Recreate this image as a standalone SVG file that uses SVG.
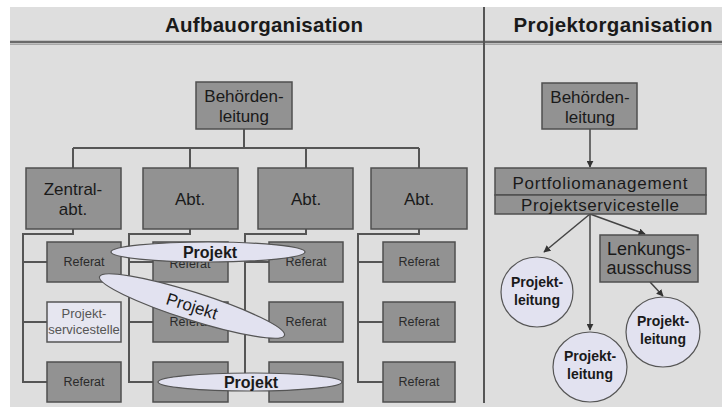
<svg xmlns="http://www.w3.org/2000/svg" width="722" height="409" viewBox="0 0 722 409">
<style>
text{font-family:"Liberation Sans",Arial,sans-serif;fill:#1a1a1a;text-anchor:middle}
.box{fill:#929292;stroke:#4f4f4f;stroke-width:1.5}
.ell{fill:#e2e2f0;stroke:#555;stroke-width:1.2}
.ln{fill:none;stroke:#555;stroke-width:2}
.arr{fill:none;stroke:#444;stroke-width:1.5;marker-end:url(#ah)}
.t17{font-size:17px}
.ref{font-size:12.5px;fill:#2a2a2a}
.prj{font-size:16px;font-weight:bold}
.pl{font-size:14px;font-weight:bold}
.hd{font-size:20.5px;font-weight:bold}
</style>
<defs>
<marker id="ah" viewBox="0 0 10 10" refX="9" refY="5" markerWidth="7" markerHeight="7" orient="auto" markerUnits="userSpaceOnUse"><path d="M0,0L10,5L0,10z" fill="#333"/></marker>
</defs>
<rect x="0" y="0" width="722" height="409" fill="#ffffff"/>
<rect x="10" y="7" width="712" height="400" fill="#dedede"/>
<line x1="10" y1="42" x2="722" y2="42" stroke="#6a6a6a" stroke-width="2.5"/>
<line x1="10" y1="44.5" x2="722" y2="44.5" stroke="#a8a8a8" stroke-width="1"/>
<line x1="484" y1="7" x2="484" y2="403" stroke="#555" stroke-width="2"/>
<text class="hd" x="264" y="32" textLength="198">Aufbauorganisation</text>
<text class="hd" x="613" y="32" textLength="199">Projektorganisation</text>

<g id="connectors">
<path class="ln" d="M244,129V148M73,148H419M73,148V168M190,148V168M306,148V168M419,148V168"/>
<path class="ln" d="M73,229V234H23V382H47M23,262H47M23,322H47"/>
<path class="ln" d="M190,229V234H129V382H153M129,262H153M129,322H153"/>
<path class="ln" d="M306,229V234H245V382H269M245,262H269M245,322H269"/>
<path class="ln" d="M419,229V234H358V382H383M358,262H383M358,322H383"/>
<line class="arr" x1="590" y1="129" x2="590" y2="167"/>
<line class="arr" x1="590" y1="214" x2="544" y2="252"/>
<line class="arr" x1="590" y1="214" x2="590" y2="330"/>
<line class="arr" x1="590" y1="214" x2="645" y2="234"/>
<line class="arr" x1="650" y1="282" x2="663" y2="296"/>
</g>

<g id="behoerdenleitung-left"><rect class="box" x="196" y="82" width="96" height="47"/><text class="t17" x="244" y="102">Behörden-</text><text class="t17" x="244" y="122">leitung</text></g>
<g id="zentralabt"><rect class="box" x="26" y="168" width="95" height="61"/><text class="t17" x="73" y="195">Zentral-</text><text class="t17" x="73" y="215">abt.</text></g>
<g id="abt1"><rect class="box" x="143" y="168" width="95" height="61"/><text class="t17" x="190" y="205">Abt.</text></g>
<g id="abt2"><rect class="box" x="258" y="168" width="95" height="61"/><text class="t17" x="306" y="205">Abt.</text></g>
<g id="abt3"><rect class="box" x="371" y="168" width="96" height="61"/><text class="t17" x="419" y="205">Abt.</text></g>

<g id="ref-1-1"><rect class="box" x="47" y="242" width="74" height="40"/><text class="ref" x="84" y="266">Referat</text></g>
<g id="projektservicestelle-left"><rect x="47" y="302" width="74" height="40" fill="#e6e6f0" stroke="#555" stroke-width="1.5"/><text class="ref" x="84" y="318" style="fill:#555;font-size:13px">Projekt-</text><text class="ref" x="84" y="334" style="fill:#555;font-size:13px">servicestelle</text></g>
<g id="ref-1-3"><rect class="box" x="47" y="362" width="74" height="40"/><text class="ref" x="84" y="386">Referat</text></g>

<g id="ref-2-1"><rect class="box" x="153" y="242" width="75" height="40"/><text class="ref" x="190" y="268">Referat</text></g>
<g id="ref-2-2"><rect class="box" x="153" y="302" width="75" height="40"/><text class="ref" x="190" y="326">Referat</text></g>
<g id="ref-2-3"><rect class="box" x="153" y="362" width="75" height="40"/><text class="ref" x="190" y="386">Referat</text></g>

<g id="ref-3-1"><rect class="box" x="269" y="242" width="74" height="40"/><text class="ref" x="306" y="266">Referat</text></g>
<g id="ref-3-2"><rect class="box" x="269" y="302" width="74" height="40"/><text class="ref" x="306" y="326">Referat</text></g>
<g id="ref-3-3"><rect class="box" x="269" y="362" width="74" height="40"/><text class="ref" x="306" y="386">Referat</text></g>

<g id="ref-4-1"><rect class="box" x="383" y="242" width="72" height="40"/><text class="ref" x="419" y="266">Referat</text></g>
<g id="ref-4-2"><rect class="box" x="383" y="302" width="72" height="40"/><text class="ref" x="419" y="326">Referat</text></g>
<g id="ref-4-3"><rect class="box" x="383" y="362" width="72" height="40"/><text class="ref" x="419" y="386">Referat</text></g>

<g id="projekt-1"><ellipse class="ell" cx="208" cy="252" rx="97" ry="10"/><text class="prj" x="210" y="258">Projekt</text></g>
<g id="projekt-2" transform="translate(192,306) rotate(17.6)"><ellipse class="ell" cx="0" cy="0" rx="97" ry="14"/><text class="prj" x="0" y="6" style="font-size:17px;font-weight:normal">Projekt</text></g>
<g id="projekt-3"><ellipse class="ell" cx="250" cy="382" rx="92" ry="9"/><text class="prj" x="251" y="388">Projekt</text></g>

<g id="behoerdenleitung-right"><rect class="box" x="542" y="83" width="95" height="46"/><text class="t17" x="590" y="103">Behörden-</text><text class="t17" x="590" y="123">leitung</text></g>
<g id="portfoliomanagement"><rect class="box" x="495" y="168" width="211" height="27"/><text class="t17" x="600" y="189" textLength="175">Portfoliomanagement</text></g>
<g id="projektservicestelle-right"><rect class="box" x="495" y="195" width="211" height="19"/><text class="t17" x="600" y="211" textLength="158">Projektservicestelle</text></g>
<g id="lenkungsausschuss"><rect class="box" x="600" y="235" width="98" height="47"/><text x="649" y="255" style="font-size:18px">Lenkungs-</text><text x="649" y="274" style="font-size:18px">ausschuss</text></g>
<g id="projektleitung-1"><ellipse class="ell" cx="537" cy="292" rx="36" ry="35"/><text class="pl" x="537" y="287">Projekt-</text><text class="pl" x="537" y="305">leitung</text></g>
<g id="projektleitung-2"><ellipse class="ell" cx="590" cy="367" rx="37" ry="35"/><text class="pl" x="590" y="361">Projekt-</text><text class="pl" x="590" y="379">leitung</text></g>
<g id="projektleitung-3"><ellipse class="ell" cx="663" cy="332" rx="37" ry="35"/><text class="pl" x="663" y="326">Projekt-</text><text class="pl" x="663" y="344">leitung</text></g>
</svg>
